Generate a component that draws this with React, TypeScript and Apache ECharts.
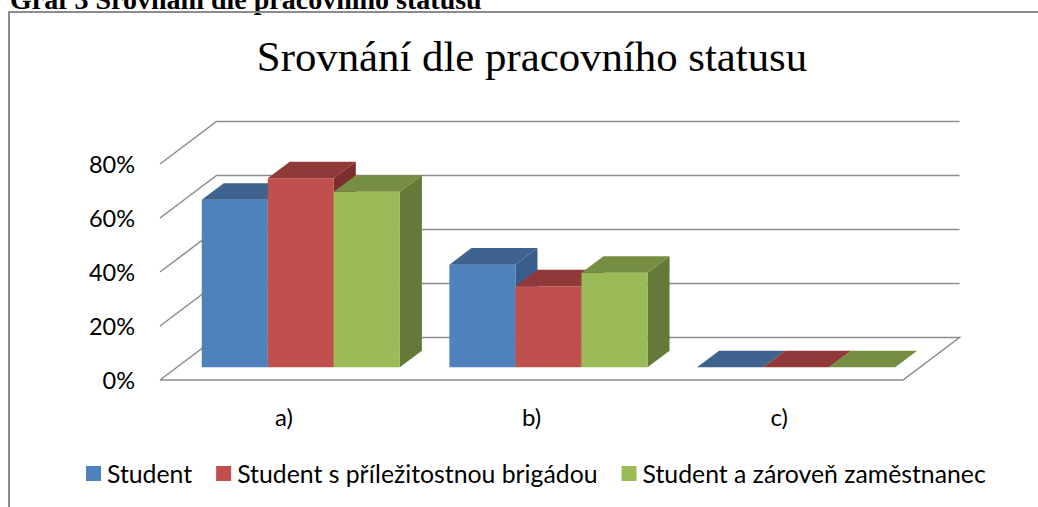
import React, { useEffect, useRef } from "react";
import * as echarts from "echarts";

const categories = ["a)", "b)", "c)"];
const student = [62, 38, 0];
const studentJob = [70, 30, 0];
const studentEmployee = [65, 35, 0];
const yTicks = [0, 20, 40, 60, 80];

const depthX = 56.5;
const depthY = -42.5;
const barNear = 0.3;
const barDepth = 0.39;
const LINE = "#8c8c8c";

function poly(points: number[][], color: string) {
  return { type: "polygon", shape: { points }, style: { fill: color } };
}

function barSeries(name: string, data: number[], index: number, front: string, top: string, side: string) {
  return {
    type: "custom",
    name,
    clip: false,
    z: 3,
    itemStyle: { color: front },
    encode: { x: 0, y: 1 },
    data: data.map((v, i) => [i, v]),
    renderItem: (_p: any, api: any) => {
      const band = api.size([1, 0])[0];
      const w = band / 3.75;
      const c = api.coord([api.value(0), 0]);
      const t = api.coord([api.value(0), api.value(1)]);
      const nx = depthX * barNear;
      const ny = depthY * barNear;
      const dx = depthX * barDepth;
      const dy = depthY * barDepth;
      const x0 = c[0] + nx - 1.5 * w + index * w;
      const x1 = x0 + w;
      const y0 = c[1] + ny;
      const y1 = t[1] + ny;
      const children: any[] = [];
      if (api.value(1) > 0) {
        children.push(poly([[x1, y0], [x1 + dx, y0 + dy], [x1 + dx, y1 + dy], [x1, y1]], side));
        children.push(poly([[x0, y0], [x1, y0], [x1, y1], [x0, y1]], front));
      }
      children.push(poly([[x0, y1], [x1, y1], [x1 + dx, y1 + dy], [x0 + dx, y1 + dy]], top));
      return { type: "group", children };
    },
  };
}

const wallSeries = {
  type: "custom",
  name: "walls",
  clip: false,
  z: 1,
  silent: true,
  encode: { y: 0 },
  data: yTicks.map((v) => [v]),
  renderItem: (params: any, api: any) => {
    const v = api.value(0);
    const l = api.coord([0, v]);
    const band = api.size([1, 0])[0];
    const x0 = l[0] - band / 2;
    const x1 = x0 + band * 3;
    const style = { stroke: LINE, lineWidth: 1.5, fill: "none" };
    const pts = [[x0, l[1]], [x0 + depthX, l[1] + depthY], [x1 + depthX, l[1] + depthY]];
    if (v === 0) pts.push([x1, l[1]], [x0, l[1]]);
    return { type: "polyline", shape: { points: pts }, style };
  },
};

const option: any = {
  animation: false,
  backgroundColor: "#ffffff",
  textStyle: { fontFamily: "Lato" },
  title: {
    text: "Srovnání dle pracovního statusu",
    left: 527,
    top: 30,
    textAlign: "center",
    textStyle: { fontFamily: "Liberation Serif", fontSize: 42.8, fontWeight: "normal", color: "#000000" },
  },
  legend: {
    data: ["Student", "Student s příležitostnou brigádou", "Student a zároveň zaměstnanec"],
    left: 86,
    top: 461,
    padding: 0,
    itemWidth: 15,
    itemHeight: 15,
    itemGap: 24,
    icon: "rect",
    textStyle: { fontFamily: "Lato", fontSize: 24.8, color: "#000000", padding: [0, 0, 0, 1] },
  },
  grid: { left: 160, top: 164, width: 743, height: 216 },
  xAxis: {
    type: "category",
    data: categories,
    axisLine: { show: false },
    axisTick: { show: false },
    axisLabel: { fontFamily: "Lato", fontSize: 24, color: "#000000", margin: 24 },
  },
  yAxis: {
    type: "value",
    min: 0,
    max: 80,
    interval: 20,
    axisLine: { show: false },
    axisTick: { show: false },
    splitLine: { show: false },
    axisLabel: { fontFamily: "Lato", fontSize: 23.5, color: "#000000", margin: 25, padding: [6, 0, 0, 0], formatter: "{value}%" },
  },
  graphic: [
    {
      type: "text",
      x: 10,
      y: -15,
      style: {
        text: "Graf 3 Srovnání dle pracovního statusu",
        fontFamily: "Liberation Serif",
        fontWeight: "bold",
        fontSize: 28,
        fill: "#000000",
      },
    },
    {
      type: "polyline",
      shape: { points: [[9, 507], [9, 12], [1038, 12]] },
      style: { fill: "none", stroke: "#8c8c8c", lineWidth: 2 },
    },
  ],
  series: [
    wallSeries,
    barSeries("Student", student, 0, "#4f81bd", "#3e638f", "#385d8a"),
    barSeries("Student s příležitostnou brigádou", studentJob, 1, "#c0504d", "#8f3a38", "#7a2f2d"),
    barSeries("Student a zároveň zaměstnanec", studentEmployee, 2, "#9bbb59", "#768e43", "#657a39"),
  ],
};

export default function App() {
  const ref = useRef<HTMLDivElement>(null);
  useEffect(() => {
    const chart = echarts.init(ref.current!, undefined, { renderer: "svg" });
    chart.setOption(option);
    return () => chart.dispose();
  }, []);
  return <div ref={ref} style={{ position: "fixed", left: 0, top: 0, width: 1038, height: 507 }} />;
}
